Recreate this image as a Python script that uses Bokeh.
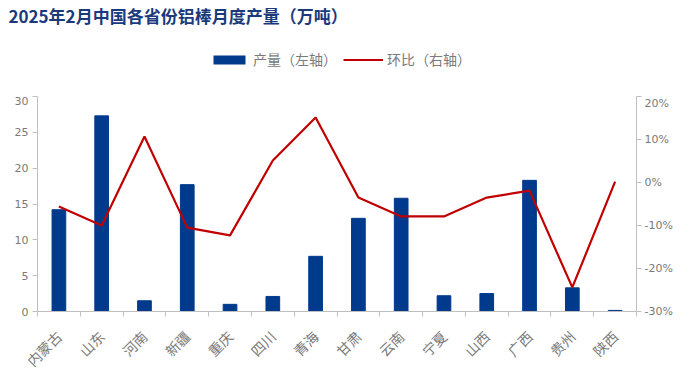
from bokeh.plotting import figure
from bokeh.layouts import column
from bokeh.models import (Range1d, LinearAxis, FixedTicker, PrintfTickFormatter,
                          Legend, LegendItem, ColumnDataSource, Title)
from bokeh.embed import file_html
from bokeh.resources import INLINE
import math

provinces = ["内蒙古", "山东", "河南", "新疆", "重庆", "四川", "青海", "甘肃",
             "云南", "宁夏", "山西", "广西", "贵州", "陕西"]
output = [14.2, 27.3, 1.5, 17.7, 1.0, 2.1, 7.7, 13.0, 15.8, 2.2, 2.5, 18.3, 3.3, 0.15]
mom_pct = [-5.6, -10.0, 10.7, -10.5, -12.3, 5.1, 15.1, -3.5, -7.9, -7.9, -3.5, -1.9, -24.4, 0.2]
left_ticks = [0, 5, 10, 15, 20, 25, 30]
right_ticks = [-30, -20, -10, 0, 10, 20]

xc = [i + 0.5 for i in range(len(provinces))]
src = ColumnDataSource(dict(x=xc, out=output, mom=mom_pct))

BAR = "#003A8C"
LINE = "#C00000"
GREY = "#7A7A7A"
AXC = "#BFBFBF"
CJK = "Noto Sans CJK SC"
NUMF = "DejaVu Sans"
W = 689
BL, BR = 37, 53

# ---- header (title + legend) ----
hdr = figure(width=W, height=96, output_backend="svg", toolbar_location=None,
             x_range=Range1d(0, 1), y_range=Range1d(0, 1),
             x_axis_location=None, y_axis_location=None,
             min_border_left=BL, min_border_right=BR, min_border_top=4, min_border_bottom=0,
             outline_line_color=None)
hdr.grid.visible = False
hdr.title = Title(text="2025年2月中国各省份铝棒月度产量（万吨）", text_font=CJK,
                  text_font_size="17px", text_font_style="bold", text_color="#1B3A7B",
                  offset=-(BL - 8), standoff=0)
nan = float("nan")
placeholder = ColumnDataSource(dict(x=[nan], y=[nan]))  # legend-only renderers, draw nothing
hb = hdr.vbar(x="x", top="y", width=1, source=placeholder, fill_color=BAR, line_color=None)
hl = hdr.line(x="x", y="y", source=placeholder, color=LINE, line_width=2.2)
legend = Legend(items=[LegendItem(label="产量（左轴）", renderers=[hb]),
                       LegendItem(label="环比（右轴）", renderers=[hl])],
                orientation="horizontal", location=(213 - 4 - BL, 27),
                glyph_width=40, glyph_height=11, label_text_font=CJK,
                label_text_font_size="14px", label_text_color=GREY,
                border_line_color=None, background_fill_alpha=0,
                padding=0, spacing=6, margin=0, label_standoff=4)
hdr.add_layout(legend, "center")

# ---- main chart ----
p = figure(width=W, height=284, output_backend="svg", toolbar_location=None,
           x_range=Range1d(0, len(provinces)), y_range=Range1d(0, 30),
           min_border_left=BL, min_border_right=BR, min_border_bottom=69, min_border_top=0)
p.extra_y_ranges = {"pct": Range1d(-30, 20)}
p.outline_line_color = None
p.xgrid.visible = False
p.ygrid.visible = False

bars = p.vbar(x="x", top="out", width=0.32, source=src, color=BAR)
ln = p.line(x="x", y="mom", source=src, color=LINE, line_width=2.2, y_range_name="pct")

xa = p.xaxis[0]
xa.ticker = FixedTicker(ticks=xc, minor_ticks=list(range(len(provinces) + 1)))
xa.major_label_overrides = {x: n for x, n in zip(xc, provinces)}
xa.major_label_orientation = math.pi / 4
xa.major_tick_line_color = None
xa.minor_tick_out = 5
xa.minor_tick_in = 0
xa.minor_tick_line_color = AXC
xa.axis_line_color = AXC
xa.major_label_text_font = CJK
xa.major_label_text_font_size = "14px"
xa.major_label_text_color = GREY
xa.major_label_standoff = 16

ya = p.yaxis[0]
ya.ticker = FixedTicker(ticks=left_ticks)
ya.axis_line_color = AXC
ya.major_tick_line_color = AXC
ya.major_tick_out = 5
ya.major_tick_in = 0
ya.minor_tick_line_color = None
ya.major_label_text_font = NUMF
ya.major_label_text_font_size = "11px"
ya.major_label_text_color = GREY
ya.major_label_standoff = 4

ra = LinearAxis(y_range_name="pct", ticker=FixedTicker(ticks=right_ticks),
                formatter=PrintfTickFormatter(format="%d%%"))
ra.axis_line_color = AXC
ra.major_tick_line_color = AXC
ra.major_tick_out = 5
ra.major_tick_in = 0
ra.minor_tick_line_color = None
ra.major_label_text_font = NUMF
ra.major_label_text_font_size = "11px"
ra.major_label_text_color = GREY
ra.major_label_standoff = 3
p.add_layout(ra, "right")

layout = column(hdr, p, spacing=0)
open("out.html", "w").write(file_html(layout, INLINE))
